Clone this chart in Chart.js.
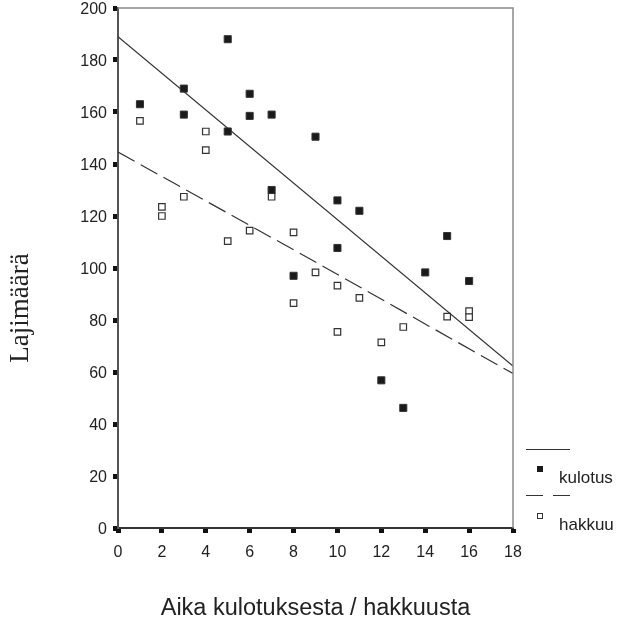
<!DOCTYPE html>
<html>
<head>
<meta charset="utf-8">
<script src="https://cdn.jsdelivr.net/npm/chart.js@4.4.1/dist/chart.umd.min.js"></script>
<style>
  html, body { margin: 0; padding: 0; background: #ffffff; }
  #wrap { position: relative; width: 618px; height: 628px; }
</style>
</head>
<body>
<div id="wrap"><canvas id="c" width="618" height="628"></canvas></div>
<script>
// ---- data ----
const kulotusX = [1, 3, 3, 5, 5, 6, 6, 7, 7, 8, 9, 10, 10, 11, 12, 13, 14, 15, 16];
const kulotusY = [163, 169, 159, 188, 152.5, 167, 158.5, 159, 130, 97, 150.5, 126, 107.7, 122, 56.8, 46.2, 98.3, 112.3, 95];

const hakkuuX = [1, 2, 2, 3, 4, 4, 5, 6, 7, 8, 8, 9, 10, 10, 11, 12, 13, 15, 16, 16];
const hakkuuY = [156.6, 123.5, 120, 127.4, 152.5, 145.3, 110.3, 114.4, 127.4, 113.7, 86.5, 98.3, 93.2, 75.4, 88.5, 71.4, 77.3, 81.3, 83.4, 81.1];

const kulotusFitX = [0, 18];
const kulotusFitY = [189, 62.3];
const hakkuuFitX = [0, 9, 18];
const hakkuuFitY = [144.6, 102.3, 59.4];

const xTicks = [0, 2, 4, 6, 8, 10, 12, 14, 16, 18];
const yTicks = [0, 20, 40, 60, 80, 100, 120, 140, 160, 180, 200];

const seriesNames = ['kulotus', 'hakkuu'];
const xTitle = 'Aika kulotuksesta / hakkuusta';
const yTitle = 'Lajimäärä';

const pts = (xs, ys) => xs.map((x, i) => ({ x: x, y: ys[i] }));

const decor = {
  id: 'decor',
  afterDraw(chart) {
    const ctx = chart.ctx;
    const a = chart.chartArea;
    ctx.save();
    // frame top + right
    ctx.strokeStyle = '#8a8a8a';
    ctx.lineWidth = 1.5;
    ctx.beginPath();
    ctx.moveTo(a.left, a.top);
    ctx.lineTo(a.right, a.top);
    ctx.lineTo(a.right, a.bottom);
    ctx.stroke();

    // legend
    ctx.strokeStyle = '#333';
    ctx.lineWidth = 1.2;
    ctx.setLineDash([]);
    ctx.beginPath(); ctx.moveTo(526, 449.5); ctx.lineTo(570, 449.5); ctx.stroke();
    ctx.setLineDash([17, 10]);
    ctx.beginPath(); ctx.moveTo(526, 495.5); ctx.lineTo(570, 495.5); ctx.stroke();
    ctx.setLineDash([]);
    ctx.fillStyle = '#1a1a1a';
    ctx.fillRect(537, 466, 6, 6);
    ctx.fillStyle = '#fff';
    ctx.strokeStyle = '#333';
    ctx.lineWidth = 1;
    ctx.fillRect(537.5, 513.5, 5, 5);
    ctx.strokeRect(537.5, 513.5, 5, 5);

    ctx.fillStyle = '#222';
    ctx.font = '17px "Liberation Sans", Arial, sans-serif';
    ctx.textAlign = 'left';
    ctx.textBaseline = 'alphabetic';
    ctx.fillText(seriesNames[0], 559, 483);
    ctx.fillText(seriesNames[1], 559, 530);

    // y title
    ctx.translate(28, 308);
    ctx.rotate(-Math.PI / 2);
    ctx.textAlign = 'center';
    ctx.font = '27px "Liberation Serif", "Times New Roman", serif';
    ctx.fillText(yTitle, 0, 0);
    ctx.restore();
  }
};

new Chart(document.getElementById('c'), {
  type: 'scatter',
  data: {
    datasets: [
      {
        label: seriesNames[0],
        data: pts(kulotusX, kulotusY),
        pointStyle: 'rect',
        pointRadius: 5,
        backgroundColor: '#1a1a1a',
        borderColor: '#333',
        borderWidth: 1,
        showLine: false
      },
      {
        label: seriesNames[1],
        data: pts(hakkuuX, hakkuuY),
        pointStyle: 'rect',
        pointRadius: 4.6,
        backgroundColor: '#ffffff',
        borderColor: '#333',
        borderWidth: 1.2,
        showLine: false
      },
      {
        label: seriesNames[0] + ' fit',
        data: pts(kulotusFitX, kulotusFitY),
        showLine: true,
        pointRadius: 0,
        borderColor: '#333',
        borderWidth: 1.2,
        fill: false
      },
      {
        label: seriesNames[1] + ' fit',
        data: pts(hakkuuFitX, hakkuuFitY),
        showLine: true,
        pointRadius: 0,
        borderColor: '#333',
        borderWidth: 1.2,
        borderDash: [19, 7],
        fill: false
      }
    ]
  },
  options: {
    responsive: false,
    animation: false,
    events: [],
    layout: { padding: { left: 0, right: 105, top: 8, bottom: 0 } },
    plugins: { legend: { display: false }, tooltip: { enabled: false } },
    scales: {
      x: {
        type: 'linear',
        min: 0, max: 18,
        afterBuildTicks: (s) => { s.ticks = xTicks.map(v => ({ value: v })); },
        afterFit: (s) => { s.height = 100; s.paddingLeft = 0; s.paddingRight = 0; },
        ticks: {
          color: '#222',
          padding: 10,
          font: { family: '"Liberation Sans", Arial, sans-serif', size: 16 },
          maxRotation: 0
        },
        grid: {
          drawOnChartArea: false,
          drawTicks: true,
          tickLength: 5,
          tickWidth: 5,
          tickColor: '#111'
        },
        border: { display: true, color: '#333', width: 2 },
        title: {
          display: true,
          text: xTitle,
          color: '#222',
          font: { family: '"Liberation Sans", Arial, sans-serif', size: 23.5 },
          padding: { top: 0, bottom: 5 }
        }
      },
      y: {
        type: 'linear',
        min: 0, max: 200,
        afterBuildTicks: (s) => { s.ticks = yTicks.map(v => ({ value: v })); },
        afterFit: (s) => { s.width = 118; s.paddingTop = 0; s.paddingBottom = 0; },
        ticks: {
          color: '#222',
          padding: 6,
          labelOffset: 2,
          font: { family: '"Liberation Sans", Arial, sans-serif', size: 16 }
        },
        grid: {
          drawOnChartArea: false,
          drawTicks: true,
          tickLength: 5,
          tickWidth: 5,
          tickColor: '#111'
        },
        border: { display: true, color: '#555', width: 2 }
      }
    }
  },
  plugins: [decor]
});
</script>
</body>
</html>
